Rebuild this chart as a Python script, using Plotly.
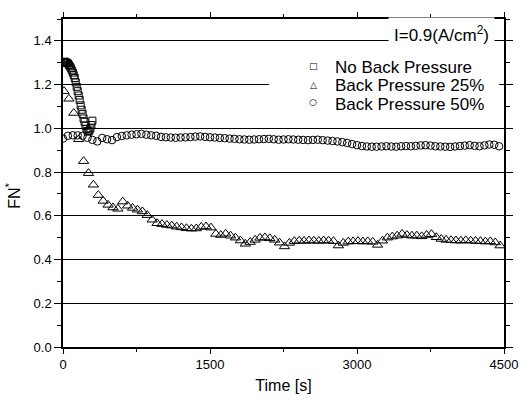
import plotly.graph_objects as go

# ---------------- data ----------------
time_nbp = [0, 10, 20, 30, 40, 50, 60, 70, 80, 90, 100, 110, 120, 130, 140, 150,
            160, 170, 180, 190, 200, 210, 220, 230, 240, 250, 260, 270, 280, 290, 300]
fn_nbp = [1.300, 1.303, 1.305, 1.302, 1.300, 1.297, 1.290, 1.283, 1.275, 1.265,
          1.255, 1.243, 1.230, 1.210, 1.190, 1.170, 1.150, 1.130, 1.105, 1.085,
          1.065, 1.045, 1.030, 1.012, 0.997, 0.988, 0.985, 0.990, 1.000, 1.015, 1.035]

time_bp25 = list(range(10, 4500, 50))
fn_bp25 = [1.170, 1.135, 1.070, 0.950, 0.850, 0.795, 0.742, 0.695, 0.668, 0.650,
           0.638, 0.632, 0.665, 0.646, 0.636, 0.628, 0.620, 0.603, 0.582, 0.566,
           0.562, 0.558, 0.555, 0.550, 0.547, 0.543, 0.541, 0.542, 0.549, 0.551,
           0.546, 0.517, 0.512, 0.518, 0.509, 0.500, 0.487, 0.472, 0.480, 0.490,
           0.499, 0.501, 0.497, 0.490, 0.477, 0.460, 0.476, 0.484, 0.486, 0.485,
           0.487, 0.486, 0.485, 0.487, 0.486, 0.484, 0.464, 0.476, 0.482, 0.483,
           0.484, 0.482, 0.483, 0.481, 0.467, 0.486, 0.500, 0.505, 0.509, 0.517,
           0.512, 0.509, 0.509, 0.506, 0.512, 0.516, 0.502, 0.494, 0.490, 0.488,
           0.487, 0.486, 0.488, 0.486, 0.485, 0.484, 0.482, 0.483, 0.478, 0.464]

time_bp50 = list(range(0, 4500, 50))
fn_bp50 = [0.953, 0.966, 0.968, 0.968, 0.966, 0.957, 0.947, 0.940, 0.956, 0.950,
           0.946, 0.960, 0.965, 0.968, 0.971, 0.973, 0.975, 0.971, 0.968, 0.966,
           0.961, 0.959, 0.958, 0.957, 0.958, 0.959, 0.960, 0.962, 0.963, 0.961,
           0.959, 0.958, 0.956, 0.955, 0.953, 0.952, 0.950, 0.949, 0.948, 0.949,
           0.950, 0.951, 0.952, 0.950, 0.948, 0.949, 0.950, 0.949, 0.948, 0.947,
           0.946, 0.947, 0.948, 0.946, 0.944, 0.942, 0.940, 0.937, 0.933, 0.928,
           0.923, 0.919, 0.917, 0.916, 0.916, 0.917, 0.918, 0.917, 0.916, 0.918,
           0.919, 0.918, 0.920, 0.922, 0.923, 0.921, 0.918, 0.917, 0.916, 0.915,
           0.917, 0.919, 0.921, 0.923, 0.920, 0.918, 0.922, 0.926, 0.925, 0.918]

series_names = ["No Back Pressure", "Back Pressure 25%", "Back Pressure 50%"]
legend_glyphs = ["\u25A1", "\u25B3", "\u25CB"]

x_ticks = [0, 1500, 3000, 4500]
y_ticks = [0.0, 0.2, 0.4, 0.6, 0.8, 1.0, 1.2, 1.4]

# ---------------- figure ----------------
FONT = "Liberation Sans, Arial, Helvetica, sans-serif"

fig = go.Figure()
fig.add_trace(go.Scatter(x=time_nbp, y=fn_nbp, mode="markers", name=series_names[0],
                         marker=dict(symbol="square-open", size=7, color="black",
                                     line=dict(width=1, color="black"))))
fig.add_trace(go.Scatter(x=time_bp25, y=fn_bp25, mode="markers", name=series_names[1],
                         marker=dict(symbol="triangle-up-open", size=9, color="black",
                                     line=dict(width=1, color="black"))))
fig.add_trace(go.Scatter(x=time_bp50, y=fn_bp50, mode="markers", name=series_names[2],
                         marker=dict(symbol="circle-open", size=7.5, color="black",
                                     line=dict(width=1, color="black"))))

axis_common = dict(showline=True, linecolor="black", linewidth=1.5, mirror="ticks",
                   ticks="outside", tickcolor="black", tickwidth=1.2, zeroline=False,
                   tickfont=dict(family=FONT, size=13, color="black"))

fig.update_xaxes(range=[0, 4500], tickvals=x_ticks, ticklen=5, showgrid=False,
                 minor=dict(dtick=750, ticks="outside", ticklen=3, tickcolor="black", showgrid=False),
                 title=dict(text="Time [s]", font=dict(family=FONT, size=16, color="black"), standoff=8),
                 **axis_common)
fig.update_yaxes(range=[0, 1.5], tickvals=y_ticks, tickformat=".1f", ticklen=7,
                 showgrid=True, gridcolor="black", gridwidth=1,
                 minor=dict(dtick=0.1, ticks="outside", ticklen=4, tickcolor="black", showgrid=False),
                 **axis_common)

# white box behind legend (covers grid lines as in the reference)
fig.add_shape(type="rect", xref="paper", yref="paper", x0=0.467, x1=0.989, y0=0.70, y1=0.905,
              fillcolor="white", line=dict(width=0), layer="above")

ann = []
ann.append(dict(text="I=0.9(A/cm<sup>2</sup>)", xref="paper", yref="paper", x=0.98, y=0.954,
                xanchor="right", yanchor="middle", showarrow=False, bgcolor="white", borderpad=5,
                font=dict(family=FONT, size=17, color="black")))
glyph_y = [0.858, 0.800, 0.747]
text_y = [0.851, 0.796, 0.739]
for g, gy, name, ty in zip(legend_glyphs, glyph_y, series_names, text_y):
    ann.append(dict(text=g, xref="paper", yref="paper", x=0.567, y=gy, xanchor="center",
                    yanchor="middle", showarrow=False,
                    font=dict(family="DejaVu Sans", size=9, color="black")))
    ann.append(dict(text=name, xref="paper", yref="paper", x=0.612, y=ty, xanchor="left",
                    yanchor="middle", showarrow=False,
                    font=dict(family=FONT, size=17, color="black")))
ann.append(dict(text="FN<sup>*</sup>", xref="paper", yref="y", x=-0.112, y=0.69,
                xanchor="center", yanchor="middle", textangle=-90, showarrow=False,
                font=dict(family=FONT, size=16, color="black")))

fig.update_layout(width=530, height=404, margin=dict(l=63, r=13, t=14, b=55),
                  paper_bgcolor="white", plot_bgcolor="white", showlegend=False,
                  annotations=ann, font=dict(family=FONT, color="black"))

fig.write_html("out.html")
